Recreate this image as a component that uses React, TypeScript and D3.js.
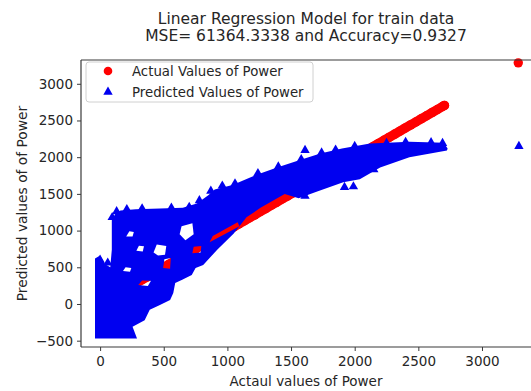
import { useEffect, useRef } from "react";
import * as d3 from "d3";

// actual power values (red points are plotted as actual vs actual)
const actualPower = [
  0, 40, 85, 120, 160, 205, 245, 290, 330, 370, 415, 455, 500, 540, 585, 625,
  670, 710, 750, 795, 835, 880, 920, 965, 1005, 1050, 1090, 1135, 1175, 1215,
  1260, 1300, 1345, 1385, 1430, 1470, 1510, 1555, 1595, 1640, 1680, 1725,
  1765, 1805, 1850, 1890, 1935, 1975, 2020, 2060, 2100, 2145, 2185, 2230,
  2270, 2315, 2355, 2395, 2440, 2480, 2525, 2565, 2610, 2650, 2690, 2705, 3285,
];

// outline of the dense cloud of predicted values [actual, predicted]
const cloudTop = [
  [-40, 620], [0, 660], [40, 540], [80, 500], [92, 740], [92, 1140],
  [120, 1230], [160, 1275], [280, 1290], [470, 1300], [650, 1310],
  [760, 1370], [850, 1480], [900, 1560], [1040, 1620], [1230, 1760],
  [1390, 1860], [1570, 1960], [1730, 2050], [1900, 2120], [2120, 2185],
  [2430, 2210], [2700, 2195], [2730, 2120],
];
const cloudBottom = [
  [-40, -470], [290, -470], [255, -310], [350, -220], [390, -80],
  [470, -15], [550, 55], [575, 150], [590, 285], [645, 330], [720, 395],
  [750, 490], [810, 530], [920, 740], [1050, 960], [1150, 1180],
  [1260, 1310], [1450, 1500], [1560, 1440], [1700, 1530], [1910, 1660],
  [2040, 1700], [2200, 1860], [2430, 2000], [2725, 2090],
];

// gaps inside the cloud where the red points show through
const cloudHoles = [
  [[625, 950], [640, 1060], [725, 1100], [735, 950], [670, 870]],
  [[420, 700], [445, 810], [520, 790], [510, 670], [455, 660]],
  [[205, 920], [230, 990], [265, 980], [255, 920]],
  [[180, 450], [200, 500], [245, 490], [235, 440]],
  [[300, 260], [330, 320], [400, 315], [375, 245]],
  [[495, 490], [505, 610], [555, 625], [550, 480]],
  [[285, 725], [305, 795], [345, 785], [335, 715]],
  [[725, 690], [735, 780], [795, 790], [790, 700]],
  [[860, 840], [885, 925], [1080, 1115], [1095, 1060]],
];

// single predicted points poking out of the cloud
const predictedEdge = [
  [95, 1180], [130, 1260], [210, 1290], [330, 1300], [560, 1310], [700, 1320],
  [780, 1410], [870, 1540], [960, 1610], [1060, 1640], [1240, 1780],
  [1400, 1870], [1580, 1970], [1740, 2060], [1850, 2100], [2000, 2150],
  [2250, 2190], [2400, 2205], [2600, 2200], [2690, 2190],
  [0, 600], [60, 560], [1610, 1470], [1920, 1590], [1990, 1600], [2150, 1830],
  [1610, 2095], [3290, 2150],
];

const xTicks = [0, 500, 1000, 1500, 2000, 2500, 3000];
const yTicks = [-500, 0, 500, 1000, 1500, 2000, 2500, 3000];

const W = 531;
const H = 391;
const FONT = "DejaVu Sans, sans-serif";
const INK = "#262626";

export default function App() {
  const svgRef = useRef<SVGSVGElement>(null);

  useEffect(() => {
    const svg = d3.select(svgRef.current);
    svg.selectAll("*").remove();

    const M = { left: 81, right: 531, top: 60, bottom: 347 };
    const x = d3.scaleLinear().domain([-150, 3385]).range([M.left, M.right]);
    const y = d3.scaleLinear().domain([-586, 3324]).range([M.bottom, M.top]);

    const RED = "#ff0000";
    const BLUE = "#0000f0";

    const plot = svg.append("g");

    // actual values: dense run drawn as a thick band, then the markers
    const diag = d3.line<number>().x((d) => x(d)).y((d) => y(d));
    plot
      .append("path")
      .attr("d", diag(actualPower.filter((d) => d < 3000)))
      .attr("fill", "none")
      .attr("stroke", RED)
      .attr("stroke-width", 9.4)
      .attr("stroke-linecap", "round");
    plot
      .selectAll(".actual")
      .data(actualPower)
      .enter()
      .append("circle")
      .attr("cx", (d) => x(d))
      .attr("cy", (d) => y(d))
      .attr("r", 4.7)
      .attr("fill", RED);

    // predicted values: dense cloud with gaps
    const line = d3.line<number[]>().x((d) => x(d[0])).y((d) => y(d[1]));
    const outline = cloudTop.concat(cloudBottom.slice().reverse());
    const mask = svg.append("defs").append("mask").attr("id", "cloud-gaps")
      .attr("maskUnits", "userSpaceOnUse").attr("x", 0).attr("y", 0).attr("width", W).attr("height", H);
    mask.append("rect").attr("width", W).attr("height", H).attr("fill", "white");
    mask.selectAll("path").data(cloudHoles).enter().append("path")
      .attr("d", (h) => line(h) + "Z").attr("fill", "black");
    plot
      .append("path")
      .attr("d", line(outline) + "Z")
      .attr("fill", BLUE)
      .attr("mask", "url(#cloud-gaps)");

    const tri = d3.symbol().type(d3.symbolTriangle).size(38);
    plot
      .selectAll(".predicted")
      .data(predictedEdge)
      .enter()
      .append("path")
      .attr("d", tri)
      .attr("transform", (d) => `translate(${x(d[0])},${y(d[1])})`)
      .attr("fill", BLUE);

    // spines
    const spine = "#3a3a3a";
    svg.append("line").attr("x1", M.left).attr("x2", M.left).attr("y1", M.top).attr("y2", M.bottom)
      .attr("stroke", spine).attr("stroke-width", 1.2);
    svg.append("line").attr("x1", M.left).attr("x2", M.right).attr("y1", M.bottom).attr("y2", M.bottom)
      .attr("stroke", spine).attr("stroke-width", 1.2);
    svg.append("line").attr("x1", M.left).attr("x2", M.right).attr("y1", M.top).attr("y2", M.top)
      .attr("stroke", spine).attr("stroke-width", 1.2);

    const xAxis = svg
      .append("g")
      .attr("transform", `translate(0,${M.bottom})`)
      .call(d3.axisBottom(x).tickValues(xTicks).tickSize(4).tickPadding(5).tickFormat(d3.format("d")));
    const yAxis = svg
      .append("g")
      .attr("transform", `translate(${M.left},0)`)
      .call(d3.axisLeft(y).tickValues(yTicks).tickSize(4).tickPadding(4).tickFormat((d) => String(d).replace("-", "\u2212")));
    [xAxis, yAxis].forEach((a) => {
      a.select(".domain").remove();
      a.selectAll("line").attr("stroke", spine);
      a.selectAll("text").attr("fill", INK).style("font-family", FONT).style("font-size", "13.5px");
    });

    // titles
    const titleLines = ["Linear Regression Model for train data", "MSE= 61364.3338 and Accuracy=0.9327"];
    svg.selectAll(".title").data(titleLines).enter().append("text")
      .attr("x", 306).attr("y", (d, i) => 24 + i * 17)
      .attr("text-anchor", "middle").attr("fill", INK)
      .style("font-family", FONT).style("font-size", "15.5px").text((d) => d);

    svg.append("text").attr("x", 306).attr("y", 386).attr("text-anchor", "middle").attr("fill", INK)
      .style("font-family", FONT).style("font-size", "13.5px").text("Actaul values of Power");
    svg.append("text").attr("transform", `translate(27,${(M.top + M.bottom) / 2}) rotate(-90)`)
      .attr("text-anchor", "middle").attr("fill", INK)
      .style("font-family", FONT).style("font-size", "13.8px").text("Predicted values of of Power");

    // legend
    const lg = svg.append("g");
    lg.append("rect").attr("x", 86).attr("y", 62).attr("width", 227).attr("height", 40).attr("rx", 3)
      .attr("fill", "white").attr("fill-opacity", 0.8).attr("stroke", "#d0d0d0");
    lg.append("circle").attr("cx", 108).attr("cy", 71).attr("r", 4.3).attr("fill", RED);
    lg.append("path").attr("d", tri).attr("transform", "translate(108,92)").attr("fill", BLUE);
    lg.append("text").attr("x", 132).attr("y", 71).attr("dy", "0.35em").attr("fill", INK)
      .style("font-family", FONT).style("font-size", "13.3px").text("Actual Values of Power");
    lg.append("text").attr("x", 132).attr("y", 92).attr("dy", "0.35em").attr("fill", INK)
      .style("font-family", FONT).style("font-size", "13.3px").text("Predicted Values of Power");
  }, []);

  return (
    <svg
      ref={svgRef}
      width={W}
      height={H}
      style={{ position: "absolute", left: 0, top: 0, background: "white" }}
    />
  );
}
